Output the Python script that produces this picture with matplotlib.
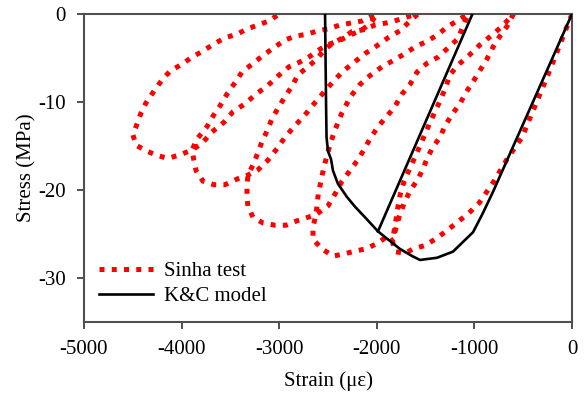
import matplotlib
matplotlib.use("Agg")
import matplotlib.pyplot as plt
from matplotlib.lines import Line2D

plt.rcParams["font.family"] = ["Liberation Serif", "DejaVu Serif"]

# ---- Sinha cyclic compression test (strain in micro-strain, stress in MPa) ----
# loading branch from the origin up to the first unloading point
env_0_strain = [0, -250, -512, -666, -799, -953, -1055, -1168, -1291, -1404, -1506, -1629, -1711, -1814, -1840]
env_0_stress = [0, -7.0, -14.0, -16.5, -19.0, -21.5, -22.6, -23.6, -24.7, -25.6, -26.3, -26.7, -27.2, -27.0, -25.8]

unl_1_strain = [-1840, -1805, -1785, -1760, -1720, -1660, -1590, -1520, -1450, -1370, -1300, -1250, -1168, -1055, -943, -820, -717, -600]
unl_1_stress = [-25.8, -23.5, -22.0, -20.5, -19.0, -17.5, -15.8, -14.0, -12.2, -10.3, -8.5, -6.9, -5.8, -4.7, -3.5, -2.4, -1.4, 0]
rel_1_strain = [-600, -666, -738, -809, -871, -943, -1014, -1086, -1147, -1219, -1301, -1352, -1424, -1480, -1527, -1580, -1660, -1720, -1770, -1840]
rel_1_stress = [0, -1.4, -2.5, -3.75, -5.1, -6.4, -7.7, -8.9, -10.2, -11.25, -12.7, -14.0, -15.1, -16.3, -17.6, -18.8, -20.1, -21.5, -23.0, -25.8]

env_1_strain = [-1840, -1885, -1998, -2121, -2244, -2346, -2449, -2561, -2654, -2654, -2623]
env_1_stress = [-25.8, -25.2, -26.1, -26.7, -27.0, -27.3, -27.5, -26.7, -25.6, -24.2, -22.8]

unl_2_strain = [-2623, -2600, -2560, -2510, -2440, -2360, -2270, -2172, -2070, -1947, -1834, -1711, -1609, -1486, -1383, -1281, -1168, -1066]
unl_2_stress = [-22.8, -20.5, -18.3, -16.0, -13.5, -11.3, -9.4, -8.0, -7.0, -6.0, -5.3, -4.5, -3.75, -3.1, -2.4, -1.5, -0.7, 0]
rel_2_strain = [-1066, -1168, -1373, -1486, -1588, -1660, -1742, -1814, -1895, -1988, -2070, -2141, -2203, -2275, -2357, -2428, -2500, -2623]
rel_2_stress = [0, -2.8, -4.9, -5.6, -6.6, -8.0, -9.1, -10.5, -11.6, -12.8, -14.2, -15.6, -16.7, -17.8, -19.0, -20.45, -21.8, -22.8]

env_2_strain = [-2623, -2705, -2818, -2930, -3043, -3166, -3268, -3320, -3330, -3330, -3320]
env_2_stress = [-22.8, -23.1, -23.5, -24.0, -24.0, -23.75, -23.1, -21.9, -20.8, -19.5, -18.3]

unl_3_strain = [-3320, -3258, -3176, -3125, -3074, -3012, -2941, -2869, -2807, -2705, -2613, -2531, -2449, -2346, -2254, -2141, -2018, -1895, -1793, -1680, -1580]
unl_3_stress = [-18.3, -16.9, -14.5, -13.3, -11.9, -10.7, -9.4, -8.2, -6.9, -6.0, -5.1, -4.0, -3.3, -2.7, -2.0, -1.8, -1.25, -1.0, -0.7, -0.3, 0]
rel_3_strain = [-1580, -1660, -1762, -1885, -1998, -2121, -2244, -2346, -2449, -2551, -2643, -2746, -2848, -2941, -3023, -3115, -3217, -3320]
rel_3_stress = [0, -0.8, -1.9, -2.7, -3.6, -4.5, -5.6, -6.5, -7.7, -9.0, -10.2, -11.6, -12.8, -14.0, -15.3, -16.6, -17.7, -18.3]

env_3_strain = [-3320, -3432, -3555, -3668, -3781, -3852, -3873, -3893]
env_3_stress = [-18.3, -18.75, -19.4, -19.4, -19.0, -17.8, -16.7, -15.45]

unl_4_strain = [-3893, -3842, -3740, -3678, -3607, -3535, -3453, -3381, -3279, -3176, -3064, -2941, -2828, -2715, -2602, -2500, -2377, -2254, -2152, -2060, -2000]
unl_4_stress = [-15.45, -14.2, -12.8, -11.6, -10.45, -9.1, -7.8, -6.6, -5.7, -4.8, -3.9, -2.95, -2.5, -2.3, -1.9, -1.7, -1.25, -1.0, -0.8, -0.3, 0]
rel_4_strain = [-2000, -2060, -2150, -2254, -2380, -2480, -2582, -2684, -2787, -2900, -3012, -3115, -3238, -3350, -3473, -3566, -3689, -3791, -3893]
rel_4_stress = [0, -1.0, -1.8, -2.3, -3.0, -3.4, -4.0, -4.8, -5.45, -6.0, -7.05, -8.1, -9.1, -10.2, -11.1, -12.3, -13.4, -14.7, -15.45]

env_4_strain = [-3893, -4016, -4139, -4242, -4354, -4467, -4498]
env_4_stress = [-15.45, -16.0, -16.4, -16.1, -15.6, -14.9, -13.75]

unl_5_strain = [-4498, -4457, -4416, -4365, -4283, -4201, -4119, -3996, -3893, -3781, -3668, -3555, -3432, -3330, -3217, -3105, -3000]
unl_5_stress = [-13.75, -12.5, -11.25, -10.1, -8.75, -7.5, -6.5, -5.7, -4.9, -4.2, -3.4, -2.7, -2.3, -1.7, -1.25, -0.8, 0]

sinha_segments = [
    (env_0_strain, env_0_stress), (unl_1_strain, unl_1_stress), (rel_1_strain, rel_1_stress),
    (env_1_strain, env_1_stress), (unl_2_strain, unl_2_stress), (rel_2_strain, rel_2_stress),
    (env_2_strain, env_2_stress), (unl_3_strain, unl_3_stress), (rel_3_strain, rel_3_stress),
    (env_3_strain, env_3_stress), (unl_4_strain, unl_4_stress), (rel_4_strain, rel_4_stress),
    (env_4_strain, env_4_stress), (unl_5_strain, unl_5_stress),
]

# ---- K&C concrete model ----
kc_env_strain = [0, -809, -912, -1014, -1117, -1219, -1383, -1557, -1639, -1762, -1865, -1988,
                 -2121, -2223, -2305, -2398, -2449, -2469, -2500, -2515, -2520, -2530]
kc_env_stress = [0, -20.2, -22.6, -24.8, -25.9, -27.0, -27.7, -27.95, -27.5, -26.7, -25.8, -24.7,
                 -23.1, -21.9, -20.8, -19.3, -17.8, -16.5, -15.6, -14.0, -10.2, 0]
kc_unl_strain = [-1988, -1020]
kc_unl_stress = [-24.7, 0]

xticks = [-5000, -4000, -3000, -2000, -1000, 0]
yticks = [0, -10, -20, -30]

RED_DOTS = dict(color="#ff0000", lw=3.6, linestyle=(0, (1, 1.45)), dash_capstyle="butt")

fig = plt.figure(figsize=(5.87, 4.0), dpi=100)
ax = fig.add_axes([84 / 587, 1 - 322 / 400, 488 / 587, 308 / 400])

sx, sy = [], []
for s, t in sinha_segments:
    if sx:
        s, t = s[1:], t[1:]
    sx.extend(s)
    sy.extend(t)
ax.plot(sx, sy, zorder=2, **RED_DOTS)

ax.plot(kc_env_strain, kc_env_stress, color="black", lw=1.9, zorder=3)
ax.plot(kc_unl_strain, kc_unl_stress, color="black", lw=1.9, zorder=3)

ax.set_xlim(-5000, 0)
ax.set_ylim(-35, 0)
ax.set_xticks(xticks)
ax.set_yticks(yticks)
ax.set_xticklabels([str(v) for v in xticks])
ax.set_yticklabels([str(v) for v in yticks])
ax.tick_params(direction="out", length=5, width=1.3, color="#404040", labelsize=15, pad=8)
for sp in ax.spines.values():
    sp.set_color("#505050")
    sp.set_linewidth(1.5)

ax.set_xlabel("Strain (\u03bc\u03b5)", fontsize=15, labelpad=9)
ax.set_ylabel("Stress (MPa)", fontsize=15, labelpad=1)

handles = [
    Line2D([], [], **RED_DOTS),
    Line2D([], [], color="black", lw=1.9),
]
ax.legend(handles, ["Sinha test", "K&C model"], loc="lower left", bbox_to_anchor=(0.005, 0.012),
          frameon=False, fontsize=15, handlelength=2.6, handletextpad=0.5, labelspacing=0.25,
          borderaxespad=0.2)

fig.savefig("out.png", dpi=100)
